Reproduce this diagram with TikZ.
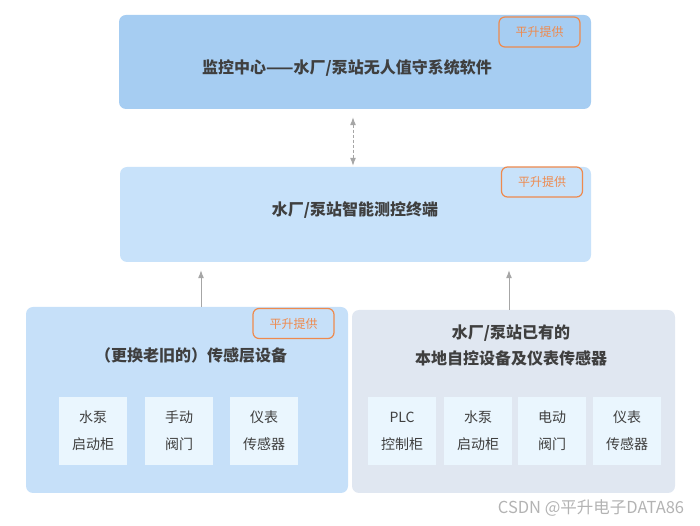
\documentclass[tikz,border=0pt]{standalone}
\usepackage{fontspec}
\setmainfont{Noto Sans CJK SC}
\usetikzlibrary{positioning,arrows.meta}
\definecolor{topblue}{HTML}{A6CDF2}
\definecolor{midblue}{HTML}{C8E2FA}
\definecolor{leftblue}{HTML}{C6E0F9}
\definecolor{localgray}{HTML}{E0E7F1}
\definecolor{cellblue}{HTML}{EAF6FE}
\definecolor{tagorange}{HTML}{EE8A4E}
\definecolor{txtgray}{HTML}{3F3F3F}
\definecolor{linegray}{HTML}{A6A6A6}
\definecolor{csdngray}{HTML}{B3B3B3}
\tikzset{
  panel/.style={fill=#1,draw=none,rounded corners=7bp,inner sep=0pt},
  tag/.style={draw=tagorange,line width=1.2bp,rounded corners=6bp,minimum width=81bp,minimum height=30bp,
    text=tagorange,font=\fontsize{12bp}{14bp}\selectfont,inner sep=0pt},
  title/.style={text=txtgray,font=\bfseries\fontsize{16bp}{26bp}\selectfont,align=center},
  cell/.style={fill=cellblue,minimum width=68bp,minimum height=68bp,inner sep=0pt,
    text=txtgray,align=center,font=\fontsize{14bp}{27bp}\selectfont},
}

\begin{document}
\begin{tikzpicture}[>={Latex[length=8bp,width=6bp]},line join=bevel,]
\useasboundingbox (0,0) rectangle (700bp,526bp);
%%
\node (center) at (355bp,464bp) [panel=topblue,minimum width=472bp,minimum height=94bp] {};
  \node (centertitle) at (347bp,458bp) [title] {监控中心——水厂/泵站无人值守系统软件};
  \node (tag1) at (539.5bp,494bp) [tag] {平升提供};
\node (terminal) at (355.5bp,311.5bp) [panel=midblue,minimum width=471bp,minimum height=95bp] {};
  \node (terminaltitle) at (355bp,316bp) [title] {水厂/泵站智能测控终端};
  \node (tag2) at (542bp,344bp) [tag] {平升提供};
\node (sensor) at (187bp,126bp) [panel=leftblue,minimum width=322bp,minimum height=186bp] {};
  \node (sensortitle) at (191bp,171bp) [title] {（更换老旧的）传感层设备};
  \node (tag3) at (293.5bp,202.5bp) [tag] {平升提供};
  \node (s1) at (93bp,95bp) [cell] {水泵\\启动柜};
  \node (s2) at (179bp,95bp) [cell] {手动\\阀门};
  \node (s3) at (264bp,95bp) [cell] {仪表\\传感器};
\node (local) at (513.5bp,124.5bp) [panel=localgray,minimum width=323bp,minimum height=183bp] {};
  \node (localtitle) at (511bp,181bp) [title] {水厂/泵站已有的\\本地自控设备及仪表传感器};
  \node (l1) at (402bp,95bp) [cell] {PLC\\控制柜};
  \node (l2) at (478bp,95bp) [cell] {水泵\\启动柜};
  \node (l3) at (552bp,95bp) [cell] {电动\\阀门};
  \node (l4) at (627bp,95bp) [cell] {仪表\\传感器};
\node (csdn) at (591bp,18bp) [text=csdngray,font=\fontsize{16.5bp}{18bp}\selectfont] {CSDN @平升电子DATA86};
%
\coordinate (a0) at (353bp,0bp);
\coordinate (a1) at (201bp,0bp);
\coordinate (a2) at (509bp,0bp);
  \draw [linegray,line width=1bp,dash pattern=on 3bp off 2bp,<->,shorten <=8bp,shorten >=1bp] (center.south -| a0) -- (terminal.north -| a0);
  \draw [linegray,line width=1bp,->,shorten >=8bp] (sensor.north -| a1) -- (terminal.south -| a1);
  \draw [linegray,line width=1bp,->,shorten >=8bp] (local.north -| a2) -- (terminal.south -| a2);
%
\end{tikzpicture}
\end{document}
